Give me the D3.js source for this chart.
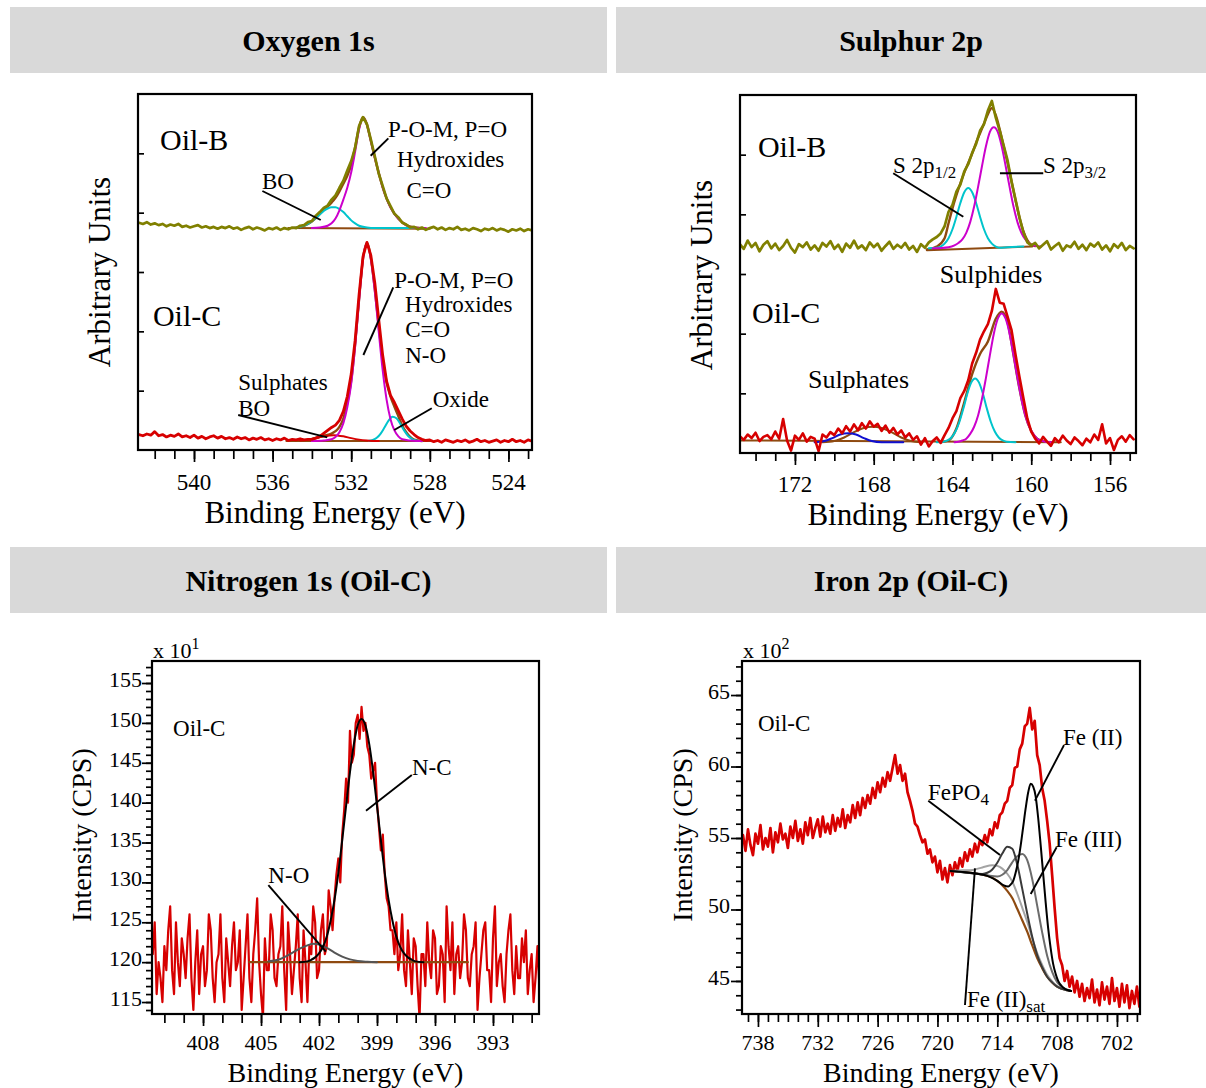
<!DOCTYPE html>
<html>
<head>
<meta charset="utf-8">
<script src="https://cdn.jsdelivr.net/npm/d3@7"></script>
<style>
  html, body { margin: 0; padding: 0; background: #fff; }
  svg { display: block; font-family: "Liberation Serif", "Times New Roman", serif; }
</style>
</head>
<body>
<svg id="fig" width="1206" height="1088"></svg>
<script>
// ===================== spectra (raw counts on a uniform energy grid) =====================
// O 1s, grid 542.8 -> 522.8 eV in 0.2 eV steps (arbitrary units)
const O1S_START = 542.8, O1S_STEP = 0.2;
const o1sOilB = [
  383, 381, 384, 380, 382, 379, 381, 377, 380, 378,
  381, 376, 378, 375, 377, 379, 375, 377, 374, 376,
  373, 376, 374, 377, 373, 375, 371, 374, 376, 372,
  375, 373, 370, 374, 372, 375, 371, 374, 372, 375,
  374, 378, 379, 384, 386, 395, 401, 408, 412, 422,
  429, 442, 454, 471, 487, 509, 546, 561, 549, 523,
  495, 466, 445, 424, 411, 398, 392, 383, 380, 375,
  376, 372, 375, 371, 374, 376, 372, 375, 371, 374,
  372, 376, 371, 373, 370, 374, 372, 369, 373, 371,
  374, 370, 373, 371, 368, 372, 370, 373, 369, 372,
  370
];
const o1sOilC = [
  26, 24, 27, 25, 31, 24, 26, 22, 25, 23,
  27, 22, 24, 21, 25, 20, 23, 19, 22, 24,
  20, 23, 19, 21, 18, 22, 19, 21, 17, 20,
  18, 21, 17, 19, 16, 19, 17, 20, 16, 18,
  17, 19, 17, 18, 18, 20, 23, 28, 33, 38,
  42, 50, 65, 90, 128, 185, 262, 326, 350, 328,
  282, 220, 160, 116, 92, 80, 66, 52, 40, 32,
  26, 21, 18, 16, 17, 14, 16, 13, 17, 15,
  13, 16, 14, 17, 13, 15, 18, 14, 16, 13,
  15, 17, 13, 16, 14, 18, 14, 16, 13, 17,
  15
];

// S 2p, grid 174.8 -> 154.8 eV in 0.2 eV steps (arbitrary units)
const S2P_START = 174.8, S2P_STEP = 0.2;
const s2pOilB = [
  350, 342, 356, 345, 352, 338, 349, 355, 343, 351,
  340, 347, 357, 344, 336, 350, 345, 353, 341, 348,
  339, 352, 346, 355, 342, 349, 337, 351, 344, 356,
  343, 348, 340, 353, 345, 351, 339, 347, 354, 342,
  349, 344, 352, 341, 347, 337, 350, 344, 353, 358,
  362, 368, 380, 404, 416, 438, 450, 472, 484, 503,
  518, 540, 551, 574, 590, 562, 540, 515, 490, 455,
  425, 395, 370, 353, 348, 352, 343, 349, 355, 341,
  347, 352, 339, 348, 345, 354, 342, 349, 340, 351,
  346, 353, 341, 348, 338, 350, 344, 352, 340, 347,
  343
];
const s2pOilC = [
  28, 22, 31, 25, 34, 20, 27, 30, 23, 36,
  24, 57, 21, 4, 29, 22, 33, 19, 27, 24,
  3, 31, 26, 35, 30, 41, 33, 45, 36, 48,
  38, 50, 41, 53, 44, 49, 37, 46, 34, 42,
  31, 38, 26, 33, 22, 28, 14, 25, 11, 20,
  26, 17, 30, 42, 58, 70, 92, 104, 122, 150,
  168, 190, 204, 216, 238, 275, 252, 250, 228, 206,
  165, 128, 92, 58, 36, 24, 16, 27, 19, 12,
  25, 18, 29, 21, 15, 26, 20, 13, 24, 18,
  31, 22, 48, 16, 25, 5, 22, 28, 19, 30,
  23
];

// N 1s, grid 410.6 -> 390.6 eV in 0.1 eV steps (CPS / 10)
const N1S_START = 410.6, N1S_STEP = 0.1;
const n1sOilC = [
  121, 125, 116, 120, 118, 115, 122, 119, 124, 127, 119, 116, 125, 120, 117, 123, 121, 118, 123, 126,
  118, 114, 120, 124, 116, 121, 122, 117, 119, 126, 124, 118, 115, 120, 121, 126, 118, 115, 123, 120,
  117, 122, 125, 119, 120, 124, 114, 118, 122, 126, 118, 115, 121, 124, 128, 120, 116, 113, 123, 119,
  119, 126, 124, 118, 117, 121, 122, 127, 119, 114, 125, 121, 116, 119, 122, 126, 118, 115, 124, 120,
  115, 122, 121, 127, 125, 118, 119, 124, 126, 121, 122, 129, 127, 124, 128, 131, 133, 130, 136, 139,
  143, 140, 149, 145, 146, 150, 151, 148, 152, 149, 150, 147, 146, 143, 144, 145, 140, 137, 134, 136,
  131, 128, 127, 124, 124, 121, 125, 119, 121, 126, 119, 117, 124, 120, 116, 123, 122, 117, 113, 121,
  121, 117, 125, 120, 118, 124, 123, 116, 117, 122, 121, 115, 127, 122, 119, 125, 116, 121, 122, 118,
  120, 126, 124, 118, 117, 121, 122, 125, 114, 118, 121, 124, 125, 119, 119, 115, 123, 127, 117, 120,
  121, 117, 115, 121, 124, 126, 119, 116, 122, 118, 118, 123, 120, 124, 116, 119, 121, 115, 118, 122,
  117
];

// Fe 2p, grid 739.5 -> 699.75 eV in 0.25 eV steps (CPS / 100)
const FE2P_START = 739.5, FE2P_STEP = 0.25;
const fe2pOilC = [
  55.2, 54.1, 55.6, 54.5, 53.8, 55.3, 54.6, 55.9, 54.2, 55.0,
  54.4, 55.7, 54.0, 55.4, 54.7, 56.0, 54.9, 55.3, 54.3, 55.8,
  55.0, 56.2, 54.8, 55.6, 54.6, 56.1, 55.2, 56.4, 55.0, 55.7,
  56.3, 55.1, 56.5, 55.4, 56.0, 55.3, 56.6, 55.5, 56.4, 55.8,
  57.0, 55.7, 56.6, 56.1, 57.3, 56.4, 57.5, 56.6, 57.8, 57.1,
  58.0, 57.4, 58.5, 57.8, 58.9, 58.2, 59.2, 58.6, 59.6, 59.0,
  59.9, 60.8, 59.5, 60.1, 59.0, 59.5, 58.2, 57.6, 56.9, 56.0,
  55.8, 55.2, 54.7, 54.9, 53.9, 54.2, 53.3, 53.7, 52.6, 53.4,
  52.1, 52.9, 51.9, 53.1, 52.4, 53.3, 52.7, 53.6, 53.0, 54.0,
  53.4, 54.2, 53.7, 54.6, 54.0, 54.8, 54.5, 55.2, 54.7, 55.6,
  55.2, 56.1, 55.7, 56.6, 56.8, 57.4, 57.6, 58.5, 58.7, 59.9,
  60.0, 61.2, 61.6, 62.8, 63.0, 64.1, 62.6, 63.2, 60.8, 60.1,
  58.5, 57.6, 56.2, 54.6, 52.4, 50.1, 48.0, 46.6, 46.1, 45.0,
  45.7, 44.6, 45.3, 44.2, 45.0, 43.9, 44.8, 43.6, 44.5, 43.8,
  45.1, 43.5, 44.4, 43.3, 44.9, 43.7, 44.6, 43.4, 45.2, 43.6,
  44.5, 43.2, 44.8, 43.5, 44.7, 43.1, 44.3, 43.4, 44.6, 43.2
];

// ===================== fitted components, [eV, value] =====================
const o1sB_base = [[535.2, 374], [528.0, 373]];
const o1sB_fit = [[535.0,374],[534.6,376],[534.2,381],[533.8,391],[533.4,405],[533.0,417],[532.8,425],[532.6,436],[532.4,449],[532.2,462],[532.0,481],[531.8,511],[531.6,544],[531.4,561],[531.2,549],[531.0,521],[530.8,493],[530.6,467],[530.4,443],[530.2,424],[530.0,409],[529.6,390],[529.2,379],[528.8,375],[528.4,374]];
const o1sB_POM = [[534.0,374],[533.6,375],[533.2,378],[533.0,382],[532.8,390],[532.6,404],[532.4,422],[532.2,442],[532.0,468],[531.8,503],[531.6,540],[531.4,559],[531.2,548],[531.0,521],[530.8,493],[530.6,467],[530.4,443],[530.2,424],[530.0,409],[529.8,398],[529.6,390],[529.4,384],[529.2,379],[529.0,376],[528.6,374],[528.2,374]];
const o1sB_BO = [[535.0,374],[534.6,376],[534.2,381],[533.8,391],[533.6,397],[533.4,403],[533.2,407],[533.0,409],[532.8,409],[532.6,406],[532.4,401],[532.2,394],[532.0,387],[531.8,382],[531.6,378],[531.2,375],[530.8,374],[528.6,374]];

const o1sC_base = [[535.3, 15], [527.9, 15]];
const o1sC_fit = [[534.0,18.5],[533.4,24],[533.0,27.5],[532.8,31.7],[532.6,39],[532.4,53],[532.2,79],[532.0,117],[531.8,179],[531.6,254],[531.4,323],[531.2,349],[531.0,323],[530.8,271],[530.6,209],[530.4,153],[530.2,114],[530.0,90],[529.8,73],[529.6,57],[529.4,41],[529.2,30],[529.0,22],[528.8,17.5],[528.4,15]];
const o1sC_POM = [[534.0,15],[533.4,16],[533.0,18],[532.8,22],[532.6,30],[532.4,45],[532.2,72],[532.0,112],[531.8,175],[531.6,252],[531.4,322],[531.2,348],[531.0,322],[530.8,268],[530.6,200],[530.4,135],[530.2,85],[530.0,52],[529.8,33],[529.6,23],[529.4,18],[529.0,16],[528.4,15]];
const o1sC_oxide = [[531.1,15.5],[530.9,17],[530.7,20.5],[530.5,27.7],[530.3,38.4],[530.1,49.5],[529.9,56],[529.7,53.5],[529.5,44],[529.3,32.7],[529.1,23.6],[528.9,18.4],[528.7,16],[528.5,15.2]];
const o1sC_BO = [[534.6,16],[534.2,17.5],[533.8,20],[533.4,23],[532.9,25],[532.4,23],[532.0,20],[531.6,17.5],[531.2,16],[530.6,15]];

const s2pB_base = [[165.3, 340], [159.95, 346]];
const s2pB_fit = [[165.3,341],[164.8,346],[164.4,360],[164.2,385],[164.0,410],[163.8,432],[163.6,452],[163.4,470],[163.2,486],[163.0,502],[162.8,520],[162.6,536],[162.4,552],[162.2,568],[162.0,578],[161.8,566],[161.6,542],[161.4,514],[161.2,486],[161.0,455],[160.8,424],[160.6,395],[160.4,372],[160.2,357],[160.0,349],[159.8,347]];
const s2pB_32 = [[165.0,343],[164.2,345],[163.9,348],[163.7,352],[163.5,358],[163.3,369],[163.1,387],[162.9,413],[162.7,446],[162.5,481],[162.3,514],[162.1,538],[161.9,546],[161.7,538],[161.5,514],[161.3,481],[161.1,446],[160.9,413],[160.7,387],[160.5,369],[160.3,358],[160.1,351],[159.9,348],[159.5,346]];
const s2pB_12 = [[165.2,343],[164.8,344],[164.6,346],[164.4,351],[164.2,360],[164.0,375],[163.8,396],[163.6,419],[163.4,437],[163.2,444],[163.0,437],[162.8,419],[162.6,396],[162.4,375],[162.2,360],[162.0,351],[161.8,346],[161.6,344],[161.2,345],[160.4,346]];

const s2pC_base = [[174.8, 21], [158.5, 18]];
const s2pC_fit = [[164.6,18],[164.2,21],[163.8,41],[163.4,85],[163.0,132],[162.6,166],[162.2,187],[161.8,225],[161.5,237],[161.2,219],[160.9,164],[160.6,108],[160.3,63],[160.0,37],[159.7,24],[159.4,20],[159.0,18]];
const s2pC_32 = [[163.9,18],[163.7,19],[163.5,21],[163.3,24],[163.1,32],[162.9,44],[162.7,63],[162.5,91],[162.3,126],[162.1,164],[161.9,200],[161.7,225],[161.5,234],[161.3,225],[161.1,200],[160.9,164],[160.7,126],[160.5,91],[160.3,63],[160.1,44],[159.9,32],[159.7,24],[159.5,21],[159.3,19],[158.9,18]];
const s2pC_12 = [[164.8,18],[164.45,19],[164.25,21],[164.05,26],[163.85,36],[163.65,52],[163.45,74],[163.25,99],[163.05,118],[162.85,125],[162.65,118],[162.45,99],[162.25,74],[162.05,52],[161.85,36],[161.65,26],[161.45,21],[161.25,19],[160.8,18]];
const s2pC_sulphA = [[171.0,18],[170.5,20],[170.1,25],[169.7,31],[169.3,33],[168.9,31],[168.5,25],[168.1,20],[167.6,18],[166.5,18]];
const s2pC_sulphB = [[170.6,18],[170.0,20],[169.5,26],[169.0,35],[168.5,42],[168.05,44],[167.6,42],[167.1,35],[166.6,26],[166.1,20],[165.6,18]];

const n1s_base = [[405.6, 120], [394.3, 120]];
const n1s_NO = [[404.6,120.1],[404.0,120.4],[403.5,121.0],[403.0,121.7],[402.6,122.1],[402.3,122.3],[402.0,122.2],[401.6,121.8],[401.2,121.2],[400.8,120.7],[400.4,120.35],[400.0,120.15],[399.5,120.05],[399.0,120]];
const n1s_NC = [[403.0,120],[402.6,120.1],[402.4,120.3],[402.2,120.6],[402.0,121.1],[401.8,121.9],[401.6,123.2],[401.4,125.2],[401.2,127.8],[401.0,131.2],[400.8,135.3],[400.6,139.6],[400.4,143.8],[400.2,147.3],[400.0,149.7],[399.8,150.5],[399.6,149.7],[399.4,147.3],[399.2,143.8],[399.0,139.6],[398.8,135.3],[398.6,131.2],[398.4,127.8],[398.2,125.2],[398.0,123.2],[397.8,121.9],[397.6,121.1],[397.4,120.6],[397.2,120.3],[397.0,120.1],[396.6,120]];

const fe2p_base = [[718.7,52.7],[718.0,52.67],[717.0,52.6],[716.0,52.5],[715.0,52.35],[714.5,52.22],[714.0,52.0],[713.5,51.7],[713.0,51.3],[712.5,50.8],[712.0,50.05],[711.5,49.25],[711.0,48.45],[710.5,47.5],[710.0,46.6],[709.5,45.9],[709.0,45.3],[708.5,44.9],[708.0,44.6],[707.5,44.45],[707.0,44.35],[706.6,44.3]];
const fe2p_sat = [[718.7,52.7],[717.5,52.74],[716.5,52.77],[715.5,52.94],[714.5,53.1],[714.0,53.05],[713.5,52.86],[713.0,52.5],[712.5,51.96],[712.0,51.1],[711.5,50.13],[711.0,49.14],[710.5,48.0],[710.0,46.95],[709.5,46.12],[709.0,45.43],[708.5,44.97],[708.0,44.63],[707.0,44.35],[706.6,44.3]];
const fe2p_FePO4 = [[718.7,52.7],[716.0,52.5],[715.5,52.49],[715.0,52.57],[714.5,52.8],[714.0,53.27],[713.5,53.91],[713.0,54.39],[712.5,54.25],[712.0,53.14],[711.5,51.46],[711.0,49.72],[710.5,48.09],[710.0,46.82],[709.5,45.96],[709.0,45.3],[708.5,44.9],[708.0,44.6],[707.0,44.35],[706.6,44.3]];
const fe2p_Fe3 = [[718.7,52.7],[716.0,52.5],[715.0,52.39],[714.0,52.31],[713.5,52.43],[713.0,52.76],[712.5,53.3],[712.0,53.72],[711.5,53.88],[711.0,53.45],[710.5,52.13],[710.0,50.27],[709.5,48.4],[709.0,46.76],[708.5,45.63],[708.0,44.91],[707.5,44.57],[707.0,44.39],[706.6,44.3]];
const fe2p_Fe2 = [[718.7,52.7],[716.0,52.5],[715.0,52.35],[714.0,52.0],[713.4,51.7],[712.9,51.6],[712.65,51.75],[712.4,52.0],[712.15,52.6],[711.9,53.4],[711.65,54.5],[711.4,55.8],[711.15,57.1],[710.9,58.2],[710.65,58.8],[710.4,58.6],[710.15,57.9],[709.9,56.4],[709.65,54.5],[709.4,52.5],[709.15,50.5],[708.9,48.7],[708.65,47.3],[708.4,46.2],[708.15,45.5],[707.9,45.0],[707.4,44.55],[706.9,44.35],[706.6,44.3]];

// ===================== axis tick labels =====================
const O1S_TICKS = [540, 536, 532, 528, 524];
const S2P_TICKS = [172, 168, 164, 160, 156];
const N1S_TICKS = [408, 405, 402, 399, 396, 393];
const FE2P_TICKS = [738, 732, 726, 720, 714, 708, 702];
const N1S_YTICKS = [115, 120, 125, 130, 135, 140, 145, 150, 155];
const FE2P_YTICKS = [45, 50, 55, 60, 65];

// ===================== annotations (data coordinates) =====================
const o1sNotes = [
  { t: "Oil-B", e: 541.73, v: 505.6, k: "tag" },
  { t: "Oil-C", e: 542.09, v: 209, k: "tag" },
  { t: "P-O-M, P=O", e: 530.13, v: 527.5 },
  { t: "Hydroxides", e: 529.67, v: 477 },
  { t: "C=O", e: 529.19, v: 424.7 },
  { t: "BO", e: 536.54, v: 439.9 },
  { t: "P-O-M, P=O", e: 529.81, v: 272.5 },
  { t: "Hydroxides", e: 529.26, v: 233.1 },
  { t: "C=O", e: 529.25, v: 191 },
  { t: "N-O", e: 529.25, v: 147.1 },
  { t: "Sulphates", e: 537.75, v: 101.1 },
  { t: "BO", e: 537.75, v: 57.3 },
  { t: "Oxide", e: 527.85, v: 73 }
];
const o1sLeaders = [
  [[530.11, 525.3], [531.01, 496]],
  [[536.52, 436.5], [533.55, 387.6]],
  [[529.86, 274.2], [531.38, 160.1]],
  [[537.75, 59], [533.22, 21.4]],
  [[527.9, 70.3], [529.81, 33.7]]
];
const s2pNotes = [
  { t: "Oil-B", e: 173.88, v: 496.1, k: "tag" },
  { t: "Oil-C", e: 174.18, v: 217.9, k: "tag" },
  { t: "S 2p", sub: "1/2", e: 167.02, v: 469.3 },
  { t: "S 2p", sub: "3/2", e: 159.4, v: 469.3 },
  { t: "Sulphides", e: 164.64, v: 284.9, k: "mid" },
  { t: "Sulphates", e: 171.34, v: 108.9, k: "mid" }
];
const s2pLeaders = [
  [[167.01, 468.8], [163.45, 396]],
  [[161.59, 468.8], [159.39, 468.8]]
];
const n1sNotes = [
  { t: "Oil-C", e: 409.55, v: 148.35 },
  { t: "N-C", e: 397.19, v: 143.46 },
  { t: "N-O", e: 404.62, v: 129.88 }
];
const n1sLeaders = [
  [[397.2, 143.46], [399.57, 138.99]],
  [[404.62, 129.67], [401.65, 121.31]]
];
const fe2pNotes = [
  { t: "Oil-C", e: 738, v: 62.48 },
  { t: "Fe (II)", e: 707.41, v: 61.5 },
  { t: "FePO", sub: "4", e: 720.95, v: 57.66 },
  { t: "Fe (III)", e: 708.22, v: 54.37 },
  { t: "Fe (II)", sub: "sat", e: 717.04, v: 43.18 }
];
const fe2pLeaders = [
  [[707.31, 61.5], [710.22, 57.61]],
  [[720.92, 57.61], [713.73, 53.81]],
  [[708.05, 54.35], [710.65, 51.08]],
  [[717.24, 43.32], [716.24, 52.88]]
];

// ===================== drawing =====================
const svg = d3.select("#fig");
const C = {
  olive: "#808000", red: "#d70000", magenta: "#cc00cc", cyan: "#00c4cc",
  brown: "#8e4a10", blue: "#1010d0", black: "#000", g1: "#3a3a3a", g2: "#6c6c6c", g3: "#a4a4a4"
};
const NOTE_SIZE = { tag: 30, mid: 26, lbl: 23 };

const onGrid = (vals, start, step) => vals.map((v, i) => [start - i * step, v]);

// section banners
[["Oxygen 1s", 10, 7, 597], ["Sulphur 2p", 616, 7, 590],
 ["Nitrogen 1s (Oil-C)", 10, 547, 597], ["Iron 2p (Oil-C)", 616, 547, 590]].forEach(([t, x, y, w]) => {
  svg.append("rect").attr("x", x).attr("y", y).attr("width", w).attr("height", 66).attr("fill", "#d9d9d9");
  svg.append("text").attr("x", x + w / 2).attr("y", y + 44).attr("text-anchor", "middle")
    .attr("font-weight", "bold").attr("font-size", 30).text(t);
});

function panel(p) {
  const x = d3.scaleLinear().domain(p.xDomain).range([p.left, p.right]);
  const y = d3.scaleLinear().domain(p.yDomain).range([p.bottom, p.top]);
  const root = svg.append("g");
  root.append("clipPath").attr("id", "clip-" + p.id).append("rect")
    .attr("x", p.left).attr("y", p.top).attr("width", p.right - p.left).attr("height", p.bottom - p.top);
  const plot = root.append("g").attr("clip-path", `url(#clip-${p.id})`);
  return { x, y, root, plot, p };
}

function curve(P, pts, color, width, smooth) {
  const gen = d3.line().x(d => P.x(d[0])).y(d => P.y(d[1]))
    .curve(smooth ? d3.curveMonotoneX : d3.curveLinear);
  P.plot.append("path").datum(pts).attr("d", gen)
    .attr("fill", "none").attr("stroke", color).attr("stroke-width", width)
    .attr("stroke-linejoin", "round").attr("stroke-linecap", "round");
}

function frame(P) {
  const p = P.p;
  P.root.append("rect").attr("x", p.left).attr("y", p.top)
    .attr("width", p.right - p.left).attr("height", p.bottom - p.top)
    .attr("fill", "none").attr("stroke", "#000").attr("stroke-width", 2.2);
}

function styleAxis(g) {
  g.select(".domain").remove();
  g.selectAll(".tick line").attr("stroke", "#000").attr("stroke-width", 1.7);
}

function xAxis(P, minor, major, minLen, majLen, labelY, fs, title, titleY, titleSize) {
  const p = P.p;
  P.root.append("g").attr("transform", `translate(0,${p.bottom})`)
    .call(d3.axisBottom(P.x).tickValues(minor).tickSize(minLen).tickFormat("")).call(styleAxis);
  P.root.append("g").attr("transform", `translate(0,${p.bottom})`)
    .call(d3.axisBottom(P.x).tickValues(major).tickSize(majLen).tickFormat("")).call(styleAxis);
  P.root.append("g").selectAll("text").data(major).join("text")
    .attr("x", d => P.x(d)).attr("y", labelY).attr("text-anchor", "middle")
    .attr("font-size", fs).text(d => d);
  P.root.append("text").attr("x", (p.left + p.right) / 2).attr("y", titleY)
    .attr("text-anchor", "middle").attr("font-size", titleSize).text(title);
}

function yTitle(P, text, x, cy, size) {
  P.root.append("text").attr("transform", `translate(${x},${cy}) rotate(-90)`)
    .attr("text-anchor", "middle").attr("font-size", size).text(text);
}

function notes(P, list, leaders) {
  leaders.forEach(seg => {
    P.root.append("line")
      .attr("x1", P.x(seg[0][0])).attr("y1", P.y(seg[0][1]))
      .attr("x2", P.x(seg[1][0])).attr("y2", P.y(seg[1][1]))
      .attr("stroke", "#000").attr("stroke-width", 1.9);
  });
  list.forEach(n => {
    const size = NOTE_SIZE[n.k || "lbl"];
    const t = P.root.append("text").attr("x", P.x(n.e)).attr("y", P.y(n.v)).attr("font-size", size).text(n.t);
    if (n.sub) t.append("tspan").attr("font-size", Math.round(size * 0.72)).attr("dy", 5).text(n.sub);
  });
}

// ---------- Oxygen 1s ----------
{
  const P = panel({ id: "o1s", left: 138, right: 532, top: 94, bottom: 450, xDomain: [542.85, 522.8], yDomain: [0, 600] });
  curve(P, o1sB_base, C.brown, 2, false);
  curve(P, o1sB_fit, C.brown, 2.4, true);
  curve(P, o1sB_BO, C.cyan, 2, true);
  curve(P, o1sB_POM, C.magenta, 2, true);
  curve(P, onGrid(o1sOilB, O1S_START, O1S_STEP), C.olive, 2.7, false);
  curve(P, o1sC_base, C.brown, 2, false);
  curve(P, o1sC_fit, C.brown, 2.4, true);
  curve(P, o1sC_oxide, C.cyan, 2, true);
  curve(P, o1sC_BO, C.red, 2, true);
  curve(P, o1sC_POM, C.magenta, 2, true);
  curve(P, onGrid(o1sOilC, O1S_START, O1S_STEP), C.red, 2.8, false);
  frame(P);
  P.root.append("g").attr("transform", `translate(${P.p.left},0)`)
    .call(d3.axisLeft(P.y).tickValues([100, 200, 300, 400, 500]).tickSize(-6).tickFormat("")).call(styleAxis);
  xAxis(P, d3.range(523, 543), O1S_TICKS, 9, 12, 490, 23, "Binding Energy (eV)", 523, 31);
  yTitle(P, "Arbitrary Units", 110, 272, 31);
  notes(P, o1sNotes, o1sLeaders);
}

// ---------- Sulphur 2p ----------
{
  const P = panel({ id: "s2p", left: 740, right: 1136, top: 95, bottom: 453, xDomain: [174.79, 154.68], yDomain: [0, 600] });
  curve(P, s2pB_base, C.brown, 2, false);
  curve(P, s2pB_fit, C.brown, 2.4, true);
  curve(P, s2pB_12, C.cyan, 2, true);
  curve(P, s2pB_32, C.magenta, 2, true);
  curve(P, onGrid(s2pOilB, S2P_START, S2P_STEP), C.olive, 2.7, false);
  curve(P, s2pC_base, C.brown, 2, false);
  curve(P, s2pC_sulphB, C.brown, 2, true);
  curve(P, s2pC_sulphA, C.blue, 2, true);
  curve(P, s2pC_fit, C.brown, 2.4, true);
  curve(P, s2pC_12, C.cyan, 2, true);
  curve(P, s2pC_32, C.magenta, 2, true);
  curve(P, onGrid(s2pOilC, S2P_START, S2P_STEP), C.red, 2.6, false);
  frame(P);
  P.root.append("g").attr("transform", `translate(${P.p.left},0)`)
    .call(d3.axisLeft(P.y).tickValues([100, 200, 300, 400, 500]).tickSize(-6).tickFormat("")).call(styleAxis);
  xAxis(P, d3.range(155, 175), S2P_TICKS, 8, 12, 492, 23, "Binding Energy (eV)", 525, 31);
  yTitle(P, "Arbitrary Units", 712, 275, 31);
  notes(P, s2pNotes, s2pLeaders);
}

// ---------- Nitrogen 1s ----------
{
  const P = panel({ id: "n1s", left: 152, right: 539, top: 661, bottom: 1014, xDomain: [410.64, 390.62], yDomain: [113.5, 157.76] });
  curve(P, onGrid(n1sOilC, N1S_START, N1S_STEP), C.red, 2.2, false);
  curve(P, n1s_base, C.brown, 2.2, false);
  curve(P, n1s_NO, "#555", 2, true);
  curve(P, n1s_NC, C.black, 2, true);
  frame(P);
  P.root.append("g").attr("transform", `translate(${P.p.left},0)`)
    .call(d3.axisLeft(P.y).tickValues(d3.range(114, 158)).tickSize(6).tickFormat("")).call(styleAxis);
  P.root.append("g").attr("transform", `translate(${P.p.left},0)`)
    .call(d3.axisLeft(P.y).tickValues(N1S_YTICKS).tickSize(10).tickFormat("")).call(styleAxis);
  P.root.append("g").selectAll("text").data(N1S_YTICKS).join("text")
    .attr("x", P.p.left - 10).attr("y", d => P.y(d) + 4).attr("text-anchor", "end")
    .attr("font-size", 22).text(d => d);
  xAxis(P, d3.range(391, 411), N1S_TICKS, 9, 12, 1050, 22, "Binding Energy (eV)", 1082, 28);
  yTitle(P, "Intensity (CPS)", 91, 835, 28);
  const m = P.root.append("text").attr("x", P.p.left + 1).attr("y", 658).attr("font-size", 22).text("x 10");
  m.append("tspan").attr("font-size", 16).attr("dy", -9).text("1");
  notes(P, n1sNotes, n1sLeaders);
}

// ---------- Iron 2p ----------
{
  const P = panel({ id: "fe2p", left: 742, right: 1140, top: 661, bottom: 1014, xDomain: [739.6, 699.69], yDomain: [42.69, 67.38] });
  curve(P, onGrid(fe2pOilC, FE2P_START, FE2P_STEP), C.red, 2.7, false);
  curve(P, fe2p_base, C.brown, 2.2, true);
  curve(P, fe2p_sat, C.g3, 2, true);
  curve(P, fe2p_Fe3, C.g2, 2, true);
  curve(P, fe2p_FePO4, C.g1, 2, true);
  curve(P, fe2p_Fe2, C.black, 2, true);
  frame(P);
  P.root.append("g").attr("transform", `translate(${P.p.left},0)`)
    .call(d3.axisLeft(P.y).tickValues(d3.range(43, 68)).tickSize(6).tickFormat("")).call(styleAxis);
  P.root.append("g").attr("transform", `translate(${P.p.left},0)`)
    .call(d3.axisLeft(P.y).tickValues(FE2P_YTICKS).tickSize(11).tickFormat("")).call(styleAxis);
  P.root.append("g").selectAll("text").data(FE2P_YTICKS).join("text")
    .attr("x", P.p.left - 12).attr("y", d => P.y(d) + 4).attr("text-anchor", "end")
    .attr("font-size", 22).text(d => d);
  xAxis(P, d3.range(700, 740), FE2P_TICKS, 8, 13, 1050, 22, "Binding Energy (eV)", 1082, 28);
  yTitle(P, "Intensity (CPS)", 692, 835, 28);
  const m = P.root.append("text").attr("x", P.p.left + 1).attr("y", 658).attr("font-size", 22).text("x 10");
  m.append("tspan").attr("font-size", 16).attr("dy", -9).text("2");
  notes(P, fe2pNotes, fe2pLeaders);
}
</script>
</body>
</html>
